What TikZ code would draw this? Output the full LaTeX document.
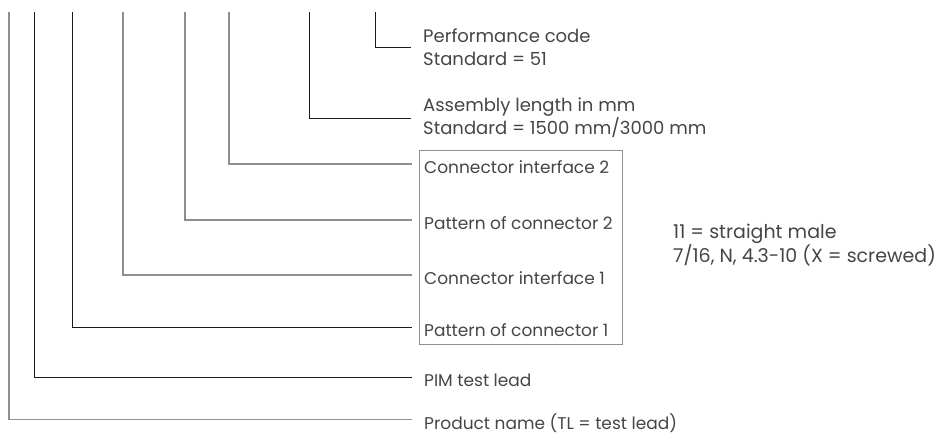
\documentclass[tikz,border=0pt]{standalone}
\usepackage{fontspec}
\setmainfont{Poppins}
\usepackage{tikz}
\usetikzlibrary{positioning}
\definecolor{leadBlack}{HTML}{1A1A1A}
\definecolor{leadGrey}{HTML}{8E8E8E}
\definecolor{labelText}{HTML}{454545}

\begin{document}
\begin{tikzpicture}[
    x=1pt, y=-1pt,
    lbl/.style={anchor=west, inner sep=0pt, text=labelText, font=\fontsize{17}{22}\selectfont, text height=19pt, text depth=0pt},
    lbltwo/.style={anchor=west, inner sep=0pt, text=labelText, align=left, font=\fontsize{18}{23}\selectfont},
    note/.style={anchor=north west, inner sep=0pt, text=labelText, align=left, font=\fontsize{19}{20}\selectfont},
    darklead/.style={draw=leadBlack, line width=0.9pt, shorten >=12pt},
    greylead/.style={draw=leadGrey, line width=1.1pt, shorten >=12pt},
    boxframe/.style={draw=leadGrey, line width=1pt, minimum width=203pt, minimum height=194pt, inner sep=0pt},
]
    \useasboundingbox (0,0) rectangle (941,434);

    % code positions
    \coordinate (tProd) at (9,12);
    \coordinate (tPim) at (34,12);
    \coordinate (tPat1) at (72,12);
    \coordinate (tCon1) at (123,12);
    \coordinate (tPat2) at (185,12);
    \coordinate (tCon2) at (229,12);
    \coordinate (tLen) at (309,12);
    \coordinate (tPerf) at (375,12);

    \node[lbltwo] (perf) at (423,47) {Performance code\\Standard = 51};
    \node[lbltwo] (length) at (423,118) {Assembly length in mm\\Standard = 1500 mm/3000 mm};

    \node[boxframe] (group) at (520.5,247) {};
    \node[lbl] (con2) at (424,164) {Connector interface 2};
    \node[lbl] (pat2) at (424,220) {Pattern of connector 2};
    \node[lbl] (con1) at (424,275) {Connector interface 1};
    \node[lbl] (pat1) at (424,327) {Pattern of connector 1};
    \node[lbl] (pim) at (424,377) {PIM test lead};
    \node[lbl] (prod) at (424,419.5) {Product name (TL = test lead)};

    \node[note] (types) at (673,224) {11 = straight male\\7/16, N, 4.3-10 (X = screwed)};

    \draw[darklead] (tPerf) |- (perf.west);
    \draw[darklead] (tLen) |- (length.west);
    \draw[greylead] (tCon2) |- (con2.west);
    \draw[greylead] (tPat2) |- (pat2.west);
    \draw[greylead] (tCon1) |- (con1.west);
    \draw[darklead] (tPat1) |- (pat1.west);
    \draw[darklead] (tPim) |- (pim.west);
    \draw[greylead] (tProd) |- (prod.west);
\end{tikzpicture}
\end{document}
